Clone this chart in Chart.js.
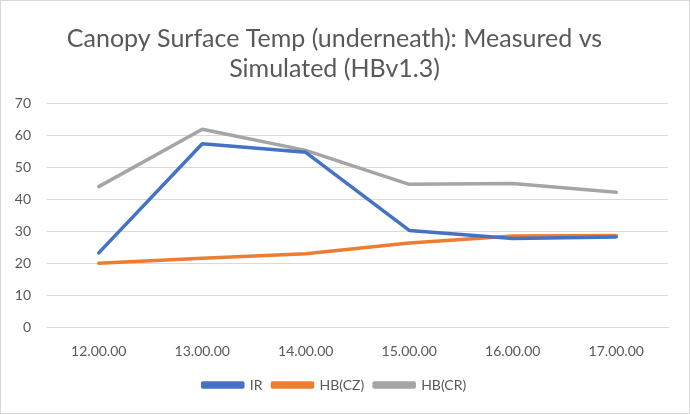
<!DOCTYPE html>
<html>
<head>
<meta charset="utf-8">
<script src="https://cdn.jsdelivr.net/npm/chart.js@4"></script>
<style>
  html, body { margin: 0; padding: 0; background: #fff; }
  #wrap { width: 688px; height: 412px; border: 1px solid #d9d9d9; position: relative; }
</style>
</head>
<body>
<div id="wrap"><canvas id="tempChart" width="688" height="412"></canvas></div>
<script>
var timeLabels = ['12.00.00', '13.00.00', '14.00.00', '15.00.00', '16.00.00', '17.00.00'];
var irValues = [23.2, 57.3, 54.6, 30.2, 27.7, 28.2];
var hbCzValues = [20.0, 21.5, 22.9, 26.3, 28.5, 28.6];
var hbCrValues = [43.9, 61.8, 55.2, 44.6, 44.9, 42.1];
var yTicks = [0, 10, 20, 30, 40, 50, 60, 70];

function makeSeries(label, data, color) {
  return {
    label: label,
    data: data,
    borderColor: color,
    backgroundColor: color,
    borderWidth: 3.5,
    pointRadius: 0,
    tension: 0,
    borderCapStyle: 'round',
    borderJoinStyle: 'round'
  };
}

var ctx = document.getElementById('tempChart').getContext('2d');
new Chart(ctx, {
  type: 'line',
  data: {
    labels: timeLabels,
    datasets: [
      makeSeries('IR', irValues, '#4472C4'),
      makeSeries('HB(CZ)', hbCzValues, '#ED7D31'),
      makeSeries('HB(CR)', hbCrValues, '#A5A5A5')
    ]
  },
  options: {
    responsive: false,
    animation: false,
    layout: { padding: { left: 0, right: 21, top: 11, bottom: 11 } },
    plugins: {
      title: {
        display: true,
        text: ['Canopy Surface Temp (underneath): Measured vs', 'Simulated (HBv1.3)'],
        color: '#595959',
        font: { family: 'Lato', size: 25, weight: 'normal' },
        padding: { top: 12, bottom: 19 },
        lineHeight: 1.36
      },
      legend: {
        position: 'bottom',
        labels: {
          color: '#595959',
          font: { family: 'Lato', size: 14 },
          boxWidth: 40,
          boxHeight: 4,
          padding: 10
        }
      },
      tooltip: { enabled: false }
    },
    scales: {
      x: {
        offset: true,
        grid: { display: false },
        border: { color: '#d9d9d9' },
        ticks: { color: '#595959', font: { family: 'Lato', size: 14 }, padding: 8 }
      },
      y: {
        min: 0,
        max: 70,
        afterBuildTicks: function (axis) {
          axis.ticks = yTicks.map(function (v) { return { value: v }; });
        },
        afterFit: function (axis) {
          axis.width = 46;
        },
        grid: { color: '#d9d9d9', drawTicks: false },
        border: { display: false },
        ticks: { color: '#595959', font: { family: 'Lato', size: 14 }, padding: 16 }
      }
    }
  }
});
</script>
</body>
</html>
